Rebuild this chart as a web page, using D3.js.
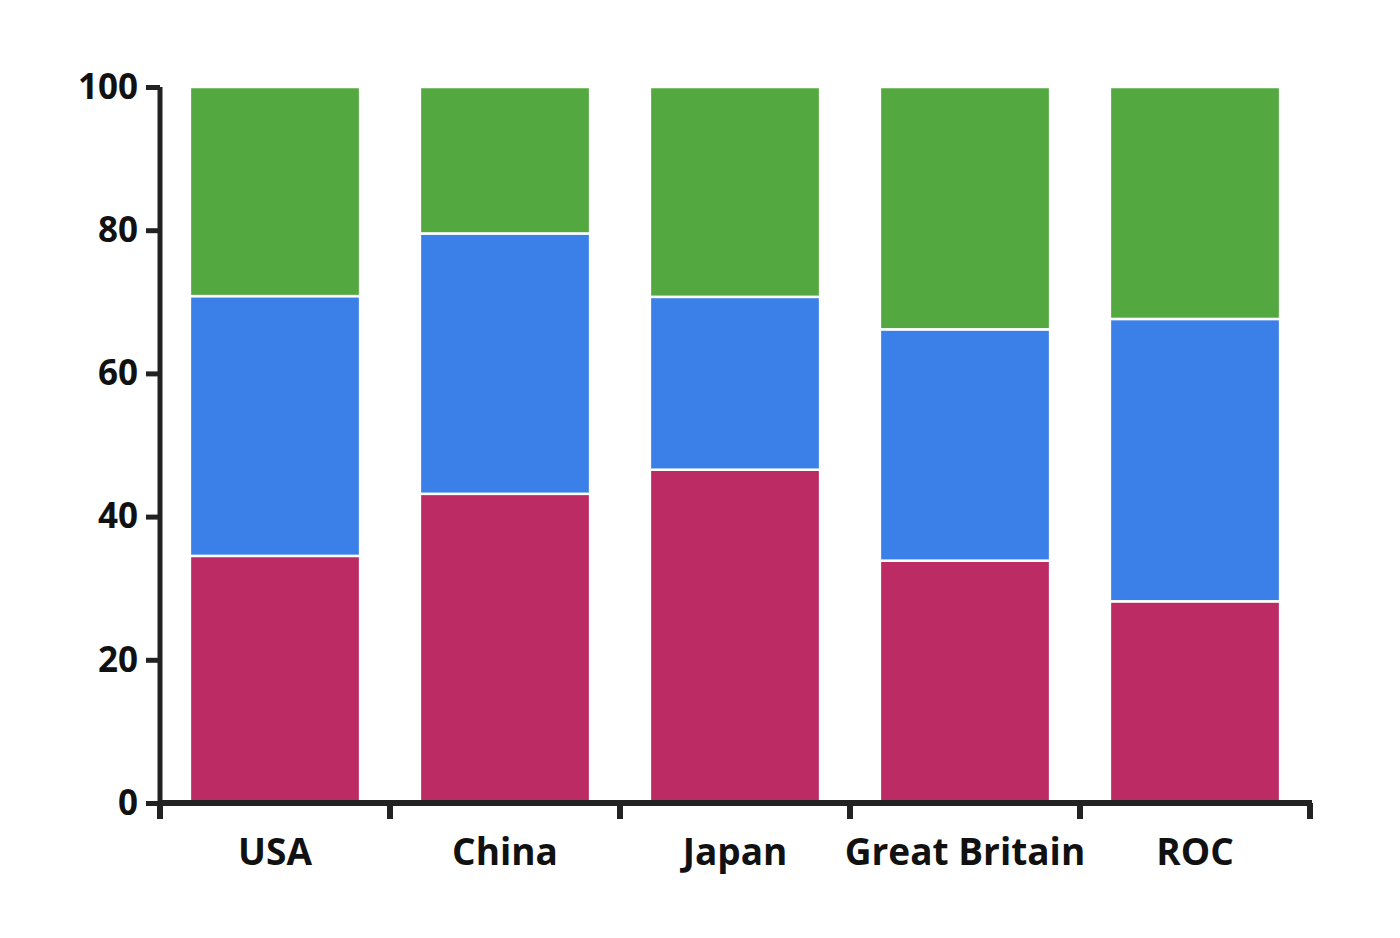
<!DOCTYPE html>
<html><head><meta charset="utf-8">
<script src="https://cdn.jsdelivr.net/npm/d3@7"></script>
<style>body{margin:0;background:#fff}text{font-family:"Open Sans","Noto Sans",sans-serif;font-weight:700;fill:#111}</style>
</head><body><svg id="c" width="1400" height="938"></svg>
<script>
const countries=["USA","China","Japan","Great Britain","ROC"];
const gold=[39,38,27,22,20];
const silver=[41,32,14,21,28];
const bronze=[33,18,17,22,23];
const yTicks=[0,20,40,60,80,100];
const colors=["#BC2B63","#3B80E8","#53A93F"];
const data=countries.map((c,i)=>{const t=gold[i]+silver[i]+bronze[i];return {c,g:gold[i]/t*100,s:silver[i]/t*100,b:bronze[i]/t*100};});
const stack=d3.stack().keys(["g","s","b"])(data);
const svg=d3.select("#c");
const x=d3.scaleBand().domain(countries).range([160,1310]).paddingInner(0.26).paddingOuter(0.13);
const xb=d3.scaleBand().domain(countries).range([160,1310]);
const y=d3.scaleLinear().domain([0,100]).range([803,87]);
stack.forEach((layer,k)=>{
 svg.append("g").selectAll("rect").data(layer).join("rect")
  .attr("x",d=>x(d.data.c)).attr("width",x.bandwidth())
  .attr("y",d=>y(d[1])).attr("height",d=>y(d[0])-y(d[1]))
  .attr("fill",colors[k]).attr("stroke","#fff").attr("stroke-width",2.5);
});
const ga=svg.append("g").attr("transform","translate(160,0)").call(d3.axisLeft(y).tickValues(yTicks).tickSize(14).tickPadding(8));
ga.select(".domain").attr("stroke","#222").attr("stroke-width",5).attr("d","M0,803V87");
ga.selectAll(".tick line").attr("stroke","#222").attr("stroke-width",5);
ga.selectAll("text").style("font-size","35px");
const gx=svg.append("g").attr("transform","translate(0,803)");
gx.append("line").attr("x1",160).attr("x2",1312).attr("stroke","#222").attr("stroke-width",6);
const bounds=countries.map(c=>xb(c)).concat([1310]);
gx.selectAll("line.t").data(bounds).join("line").attr("class","t").attr("x1",d=>d+ (d===160?0:0)).attr("x2",d=>d).attr("y1",0).attr("y2",16).attr("stroke","#222").attr("stroke-width",6);
gx.selectAll("text").data(countries).join("text").attr("x",c=>xb(c)+xb.bandwidth()/2).attr("y",62).attr("text-anchor","middle").style("font-size","37px").text(c=>c);
</script></body></html>
